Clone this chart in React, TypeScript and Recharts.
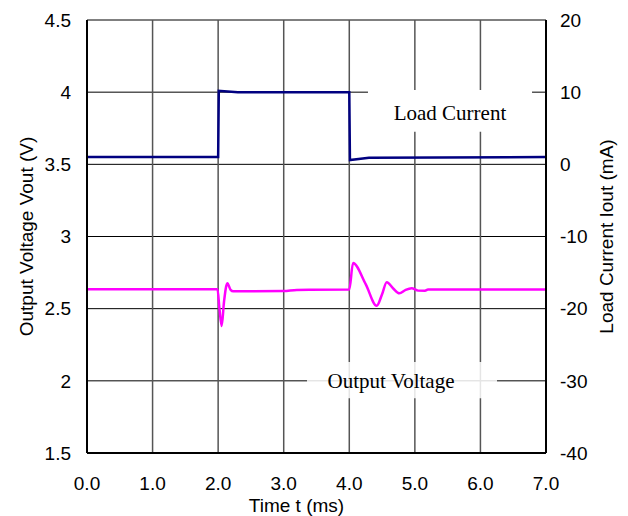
import React from 'react';
import {
  LineChart,
  Line,
  XAxis,
  YAxis,
  CartesianGrid,
  ReferenceArea,
  Label
} from 'recharts';

// time axis ticks (ms)
const timeTicks = [0, 1, 2, 3, 4, 5, 6, 7];
const voltTicks = [1.5, 2, 2.5, 3, 3.5, 4, 4.5];
const currentTicks = [-40, -30, -20, -10, 0, 10, 20];

// output voltage trace: [time ms, Vout V]
const voltageTime = [0, 1.0, 1.99, 2.02, 2.054, 2.09, 2.14, 2.19, 2.23, 3.0, 3.2, 4.0, 4.057, 4.25, 4.418, 4.5, 4.571, 4.67, 4.763, 4.86, 4.952, 5.05, 5.155, 5.2, 7.0];
const voltageValue = [2.635, 2.635, 2.635, 2.5, 2.38, 2.55, 2.676, 2.63, 2.62, 2.622, 2.63, 2.632, 2.816, 2.67, 2.52, 2.6, 2.683, 2.64, 2.606, 2.63, 2.641, 2.625, 2.624, 2.632, 2.632];

// load current trace: [time ms, Iout mA]
const currentTime = [0, 2.0, 2.01, 2.3, 4.0, 4.01, 4.3, 7.0];
const currentValue = [1.0, 1.0, 10.2, 10.0, 10.0, 0.6, 0.9, 1.0];

const voltageData = voltageTime.map((t, i) => ({ t, v: voltageValue[i] }));
const currentData = currentTime.map((t, i) => ({ t, i: currentValue[i] }));

const sans = 'Liberation Sans, Arial, sans-serif';
const serif = 'Liberation Serif, Times New Roman, serif';
const tickStyle = { fill: '#000', fontSize: 19, fontFamily: sans };
const titleStyle = { fill: '#000', fontSize: 19, fontFamily: sans };
const noteStyle = { fill: '#000', fontSize: 21, fontFamily: serif };

const App: React.FC = () => {
  return (
    <div style={{ position: 'absolute', left: 0, top: 0, background: '#fff' }}>
      <LineChart
        width={628}
        height={516}
        margin={{ top: 20, right: 22, left: 27, bottom: 23 }}
      >
        <CartesianGrid yAxisId="v" vertical={false} stroke="#000" strokeWidth={1} />
        <CartesianGrid yAxisId="v" horizontal={false} stroke="#555" strokeWidth={1.5} />
        <XAxis
          dataKey="t"
          type="number"
          domain={[0, 7]}
          ticks={timeTicks}
          allowDataOverflow
          tickFormatter={(v: number) => v.toFixed(1)}
          tick={tickStyle}
          tickLine={false}
          tickSize={0}
          tickMargin={24}
          height={40}
          axisLine={{ stroke: '#000', strokeWidth: 2 }}
        >
          <Label value="Time t (ms)" position="center" dx={-20} dy={32} style={titleStyle} />
        </XAxis>
        <XAxis
          xAxisId="top"
          orientation="top"
          type="number"
          domain={[0, 7]}
          tick={false}
          tickLine={false}
          height={0}
          axisLine={{ stroke: '#000', strokeWidth: 2 }}
        />
        <YAxis
          yAxisId="v"
          type="number"
          domain={[1.5, 4.5]}
          ticks={voltTicks}
          tick={tickStyle}
          tickLine={false}
          tickSize={0}
          tickMargin={16}
          width={60}
          axisLine={{ stroke: '#000', strokeWidth: 2 }}
        >
          <Label value="Output Voltage Vout (V)" angle={-90} position="center" dx={-31} style={titleStyle} />
        </YAxis>
        <YAxis
          yAxisId="i"
          orientation="right"
          type="number"
          domain={[-40, 20]}
          ticks={currentTicks}
          tick={tickStyle}
          tickLine={false}
          tickSize={0}
          tickMargin={14}
          width={60}
          axisLine={{ stroke: '#000', strokeWidth: 2 }}
        >
          <Label value="Load Current Iout (mA)" angle={-90} position="center" dx={30} style={titleStyle} />
        </YAxis>

        {/* text boxes over the grid */}
        <ReferenceArea
          yAxisId="i"
          x1={4.285}
          x2={6.787}
          y1={4.5}
          y2={10.3}
          fill="#fff"
          fillOpacity={1}
          stroke="none"
          ifOverflow="visible"
        >
          <Label value="Load Current" position="center" dy={2} style={noteStyle} />
        </ReferenceArea>
        <ReferenceArea
          yAxisId="v"
          x1={3.355}
          x2={6.253}
          y1={1.88}
          y2={2.13}
          fill="#fff"
          fillOpacity={0.85}
          stroke="none"
          ifOverflow="visible"
        >
          <Label value="Output Voltage" position="center" dx={-11} style={noteStyle} />
        </ReferenceArea>

        <Line
          yAxisId="i"
          data={currentData}
          dataKey="i"
          type="linear"
          stroke="#000080"
          strokeWidth={2.5}
          dot={false}
          isAnimationActive={false}
        />
        <Line
          yAxisId="v"
          data={voltageData}
          dataKey="v"
          type="monotone"
          stroke="#ff00ff"
          strokeWidth={2.5}
          dot={false}
          isAnimationActive={false}
        />
      </LineChart>
    </div>
  );
};

export default App;
